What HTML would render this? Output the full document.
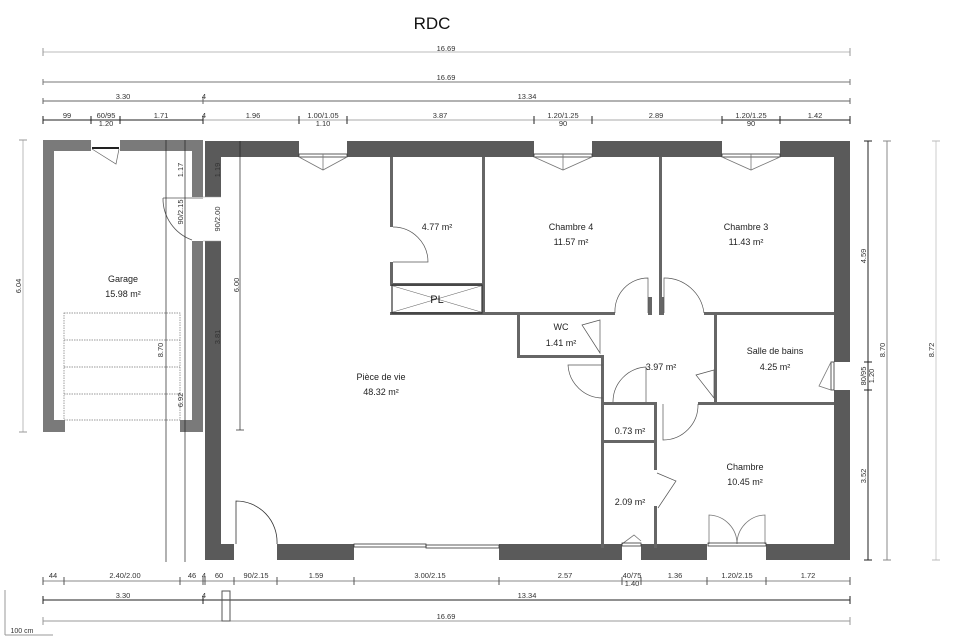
<!DOCTYPE html>
<html><head><meta charset="utf-8"><style>
html,body{margin:0;padding:0;background:#fff;}
svg{display:block;font-family:"Liberation Sans",sans-serif;}
</style></head><body>
<svg width="960" height="642" viewBox="0 0 960 642" xmlns="http://www.w3.org/2000/svg">
<rect width="960" height="642" fill="#fff"/>
<text x="432" y="29" font-size="17" text-anchor="middle" fill="#111">RDC</text>

<!-- top dimension lines -->
<g font-size="7.5" fill="#333" text-anchor="middle">
<line x1="43" y1="52" x2="850" y2="52" stroke="#bbb"/>
<line x1="43" y1="48" x2="43" y2="56" stroke="#999"/><line x1="850" y1="48" x2="850" y2="56" stroke="#999"/>
<text x="446" y="51">16.69</text>
<line x1="43" y1="82" x2="850" y2="82" stroke="#777"/>
<line x1="43" y1="79" x2="43" y2="85" stroke="#777"/><line x1="850" y1="79" x2="850" y2="85" stroke="#777"/>
<text x="446" y="80">16.69</text>
<line x1="43" y1="101" x2="850" y2="101" stroke="#666"/>
<line x1="43" y1="98" x2="43" y2="104" stroke="#666"/><line x1="203" y1="97" x2="203" y2="104" stroke="#666"/><line x1="850" y1="98" x2="850" y2="104" stroke="#666"/>
<text x="123" y="99">3.30</text><text x="204" y="99">4</text><text x="527" y="99">13.34</text>
<line x1="43" y1="120" x2="850" y2="120" stroke="#aaa"/>
<line x1="43" y1="120" x2="203" y2="120" stroke="#222"/>
<line x1="722" y1="120" x2="850" y2="120" stroke="#222"/>
<g stroke="#222"><line x1="43" y1="116" x2="43" y2="124"/><line x1="91" y1="116" x2="91" y2="124"/><line x1="120" y1="116" x2="120" y2="124"/><line x1="203" y1="116" x2="203" y2="124"/><line x1="299" y1="116" x2="299" y2="124"/><line x1="347" y1="116" x2="347" y2="124"/><line x1="534" y1="116" x2="534" y2="124"/><line x1="592" y1="116" x2="592" y2="124"/><line x1="722" y1="116" x2="722" y2="124"/><line x1="780" y1="116" x2="780" y2="124"/><line x1="850" y1="116" x2="850" y2="124"/></g>
<text x="67" y="118">99</text><text x="106" y="118">60/95</text><text x="106" y="126">1.20</text><text x="161" y="118">1.71</text><text x="204" y="118">4</text><text x="253" y="118">1.96</text><text x="323" y="118">1.00/1.05</text><text x="323" y="126">1.10</text><text x="440" y="118">3.87</text><text x="563" y="118">1.20/1.25</text><text x="563" y="126">90</text><text x="656" y="118">2.89</text><text x="751" y="118">1.20/1.25</text><text x="751" y="126">90</text><text x="815" y="118">1.42</text>
</g>

<!-- bottom dimension lines -->
<g font-size="7.5" fill="#333" text-anchor="middle">
<line x1="43" y1="581" x2="850" y2="581" stroke="#888"/>
<g stroke="#555"><line x1="43" y1="577" x2="43" y2="585"/><line x1="64" y1="577" x2="64" y2="585"/><line x1="180" y1="577" x2="180" y2="585"/><line x1="203" y1="577" x2="203" y2="585"/><line x1="205" y1="577" x2="205" y2="585"/><line x1="234" y1="577" x2="234" y2="585"/><line x1="277" y1="577" x2="277" y2="585"/><line x1="354" y1="577" x2="354" y2="585"/><line x1="499" y1="577" x2="499" y2="585"/><line x1="622" y1="577" x2="622" y2="585"/><line x1="641" y1="577" x2="641" y2="585"/><line x1="707" y1="577" x2="707" y2="585"/><line x1="766" y1="577" x2="766" y2="585"/><line x1="850" y1="577" x2="850" y2="585"/></g>
<text x="53" y="578">44</text><text x="125" y="578">2.40/2.00</text><text x="192" y="578">46</text><text x="204" y="578">4</text><text x="219" y="578">60</text><text x="256" y="578">90/2.15</text><text x="316" y="578">1.59</text><text x="430" y="578">3.00/2.15</text><text x="565" y="578">2.57</text><text x="632" y="578">40/75</text><text x="632" y="586">1.40</text><text x="675" y="578">1.36</text><text x="737" y="578">1.20/2.15</text><text x="808" y="578">1.72</text>
<line x1="43" y1="600" x2="850" y2="600" stroke="#222"/>
<line x1="43" y1="596" x2="43" y2="604" stroke="#222"/><line x1="203" y1="596" x2="203" y2="604" stroke="#222"/><line x1="850" y1="596" x2="850" y2="604" stroke="#222"/>
<text x="123" y="598">3.30</text><text x="204" y="598">4</text><text x="527" y="598">13.34</text>
<line x1="43" y1="621" x2="850" y2="621" stroke="#999"/>
<line x1="43" y1="617" x2="43" y2="625" stroke="#999"/><line x1="850" y1="617" x2="850" y2="625" stroke="#999"/>
<text x="446" y="619">16.69</text>
<rect x="222" y="591" width="8" height="30" fill="none" stroke="#555"/>
<line x1="5" y1="590" x2="5" y2="635" stroke="#999"/>
<line x1="5" y1="635" x2="53" y2="635" stroke="#999"/>
<text x="22" y="633" font-size="7">100 cm</text>
</g>

<!-- left & right vertical dims -->
<g font-size="7.5" fill="#333" text-anchor="middle">
<line x1="23" y1="140" x2="23" y2="432" stroke="#bbb"/>
<line x1="19" y1="140" x2="27" y2="140" stroke="#999"/><line x1="19" y1="432" x2="27" y2="432" stroke="#999"/>
<text transform="translate(21,286) rotate(-90)">6.04</text>
<line x1="868" y1="141" x2="868" y2="560" stroke="#222"/>
<line x1="864" y1="141" x2="872" y2="141" stroke="#222"/><line x1="864" y1="362" x2="872" y2="362" stroke="#222"/><line x1="864" y1="390" x2="872" y2="390" stroke="#222"/><line x1="864" y1="560" x2="872" y2="560" stroke="#222"/>
<text transform="translate(866,256) rotate(-90)">4.59</text>
<text transform="translate(866,376) rotate(-90)">80/95</text>
<text transform="translate(874,376) rotate(-90)">1.20</text>
<text transform="translate(866,476) rotate(-90)">3.52</text>
<line x1="887" y1="141" x2="887" y2="560" stroke="#888"/>
<line x1="883" y1="141" x2="891" y2="141" stroke="#888"/><line x1="883" y1="560" x2="891" y2="560" stroke="#888"/>
<text transform="translate(885,350) rotate(-90)">8.70</text>
<line x1="936" y1="141" x2="936" y2="560" stroke="#ccc"/>
<line x1="932" y1="141" x2="940" y2="141" stroke="#bbb"/><line x1="932" y1="560" x2="940" y2="560" stroke="#bbb"/>
<text transform="translate(934,350) rotate(-90)">8.72</text>
</g>

<!-- Garage walls -->
<g fill="#7a7a7a">
<rect x="43" y="140" width="48" height="11"/><rect x="120" y="140" width="83" height="11"/>
<rect x="43" y="140" width="11" height="292"/>
<rect x="192" y="140" width="11" height="57"/><rect x="192" y="241" width="11" height="191"/>
<rect x="43" y="420" width="22" height="12"/><rect x="180" y="420" width="23" height="12"/>
</g>
<line x1="92" y1="148" x2="119" y2="148" stroke="#222" stroke-width="2"/>
<path d="M92,149 L116,164 L119,149" fill="none" stroke="#666" stroke-width="0.7"/>
<path d="M163,198 L203,198 M163,198 A44,44 0 0 0 192,240" fill="none" stroke="#555" stroke-width="0.8"/>
<!-- garage hatch -->
<g fill="none" stroke="#777" stroke-width="0.7" stroke-dasharray="1.5,1">
<rect x="64" y="313" width="116" height="107"/>
<line x1="64" y1="340" x2="180" y2="340"/><line x1="64" y1="367" x2="180" y2="367"/><line x1="64" y1="394" x2="180" y2="394"/>
</g>
<text x="123" y="282" font-size="9" text-anchor="middle" fill="#222">Garage</text>
<text x="123" y="297" font-size="9" text-anchor="middle" fill="#222">15.98 m²</text>

<!-- Main walls -->
<g fill="#5a5a5a">
<rect x="205" y="141" width="94" height="16"/><rect x="347" y="141" width="187" height="16"/><rect x="592" y="141" width="130" height="16"/><rect x="780" y="141" width="70" height="16"/>
<rect x="205" y="141" width="16" height="56"/><rect x="205" y="241" width="16" height="319"/>
<rect x="834" y="141" width="16" height="221"/><rect x="834" y="390" width="16" height="170"/>
<rect x="205" y="544" width="29" height="16"/><rect x="277" y="544" width="77" height="16"/><rect x="499" y="544" width="123" height="16"/><rect x="641" y="544" width="66" height="16"/><rect x="766" y="544" width="84" height="16"/>
</g>
<!-- windows -->
<g fill="none" stroke="#333" stroke-width="0.8">
<rect x="299" y="154" width="48" height="3"/><path d="M299,157 L323,170 L347,157 M323,154 L323,170" stroke="#777"/>
<rect x="534" y="154" width="58" height="3"/><path d="M534,157 L563,170 L592,157 M563,154 L563,170" stroke="#777"/>
<rect x="722" y="154" width="58" height="3"/><path d="M722,157 L751,170 L780,157 M751,154 L751,170" stroke="#777"/>
<rect x="831" y="362" width="3" height="28"/><path d="M831,362 L819,386 L831,390" stroke="#777"/>
<rect x="354" y="544" width="72" height="3"/><rect x="426" y="545" width="73" height="3"/>
<path d="M236,544 L236,501 A41,41 0 0 1 277,544" stroke="#333"/>
<path d="M622,544 L634,535 L641,541" stroke="#777"/><rect x="622" y="543" width="19" height="3"/>
<path d="M709,544 L709,515 A29,29 0 0 1 737,544 A29,29 0 0 1 765,515 L765,544" stroke="#777"/><rect x="708" y="543" width="58" height="3"/>
</g>
<!-- door gap between garage and house -->
<line x1="203" y1="197" x2="221" y2="197" stroke="#999" stroke-width="0.6"/>
<line x1="203" y1="241" x2="221" y2="241" stroke="#999" stroke-width="0.6"/>

<!-- interior dims -->
<g stroke="#222" stroke-width="0.7">
<line x1="166" y1="140" x2="166" y2="562"/><line x1="185" y1="140" x2="185" y2="562"/>
<line x1="240" y1="141" x2="240" y2="430"/><line x1="236" y1="430" x2="244" y2="430"/>
</g>
<g font-size="7.5" fill="#333" text-anchor="middle">
<text transform="translate(183,170) rotate(-90)">1.17</text>
<text transform="translate(183,212) rotate(-90)">90/2.15</text>
<text transform="translate(163,350) rotate(-90)">8.70</text>
<text transform="translate(183,400) rotate(-90)">6.92</text>
<text transform="translate(220,170) rotate(-90)">1.19</text>
<text transform="translate(220,219) rotate(-90)">90/2.00</text>
<text transform="translate(239,285) rotate(-90)">6.00</text>
<text transform="translate(220,337) rotate(-90)">3.81</text>
</g>

<!-- interior walls -->
<g fill="#666">
<rect x="390" y="157" width="3" height="70"/><rect x="390" y="262" width="3" height="22"/>
<rect x="390" y="283" width="94" height="3"/>
<rect x="482" y="157" width="3" height="158"/>
<rect x="390" y="312" width="94" height="3"/>
<rect x="659" y="157" width="3" height="158"/>
<rect x="484" y="312" width="131" height="3"/><rect x="648" y="297" width="4" height="18"/>
<rect x="660" y="297" width="4" height="18"/>
<rect x="704" y="312" width="130" height="3"/>
<rect x="517" y="314" width="3" height="44"/><rect x="517" y="355" width="86" height="3"/>
<rect x="601" y="355" width="3" height="193"/>
<rect x="714" y="314" width="3" height="90"/>
<rect x="601" y="402" width="55" height="3"/><rect x="698" y="402" width="136" height="3"/>
<rect x="601" y="440" width="55" height="3"/>
<rect x="654" y="402" width="3" height="68"/><rect x="654" y="506" width="3" height="42"/>
</g>
<rect x="392" y="285" width="90" height="28" fill="none" stroke="#333" stroke-width="1.2"/>
<path d="M393,286 L481,312 M393,312 L481,286" stroke="#666" stroke-width="0.6"/>
<text x="437" y="303" font-size="11" text-anchor="middle" fill="#222">PL</text>
<!-- doors -->
<g fill="none" stroke="#555" stroke-width="0.7">
<path d="M393,227 A35,35 0 0 1 428,262 L393,262"/>
<path d="M648,313 L648,278 A33,33 0 0 0 615,313"/>
<path d="M664,313 L664,278 A40,40 0 0 1 704,313"/>
<path d="M600,320 L582,325 L600,353 Z"/>
<path d="M603,365 L568,365 A35,35 0 0 0 603,398"/>
<path d="M646,402 L646,367 A35,35 0 0 0 613,402"/>
<path d="M714,370 L696,375 L714,398 Z"/>
<path d="M663,404 L663,440 A35,35 0 0 0 698,404"/>
<path d="M657,473 L676,481 L658,508"/>
</g>

<!-- labels -->
<g font-size="9" text-anchor="middle" fill="#222">
<text x="437" y="230">4.77 m²</text>
<text x="571" y="230">Chambre 4</text><text x="571" y="245">11.57 m²</text>
<text x="746" y="230">Chambre 3</text><text x="746" y="245">11.43 m²</text>
<text x="561" y="330">WC</text><text x="561" y="346">1.41 m²</text>
<text x="775" y="354">Salle de bains</text><text x="775" y="370">4.25 m²</text>
<text x="661" y="370">3.97 m²</text>
<text x="381" y="380">Pièce de vie</text><text x="381" y="395">48.32 m²</text>
<text x="630" y="434">0.73 m²</text>
<text x="630" y="505">2.09 m²</text>
<text x="745" y="470">Chambre</text><text x="745" y="485">10.45 m²</text>
</g>
</svg>
</body></html>
